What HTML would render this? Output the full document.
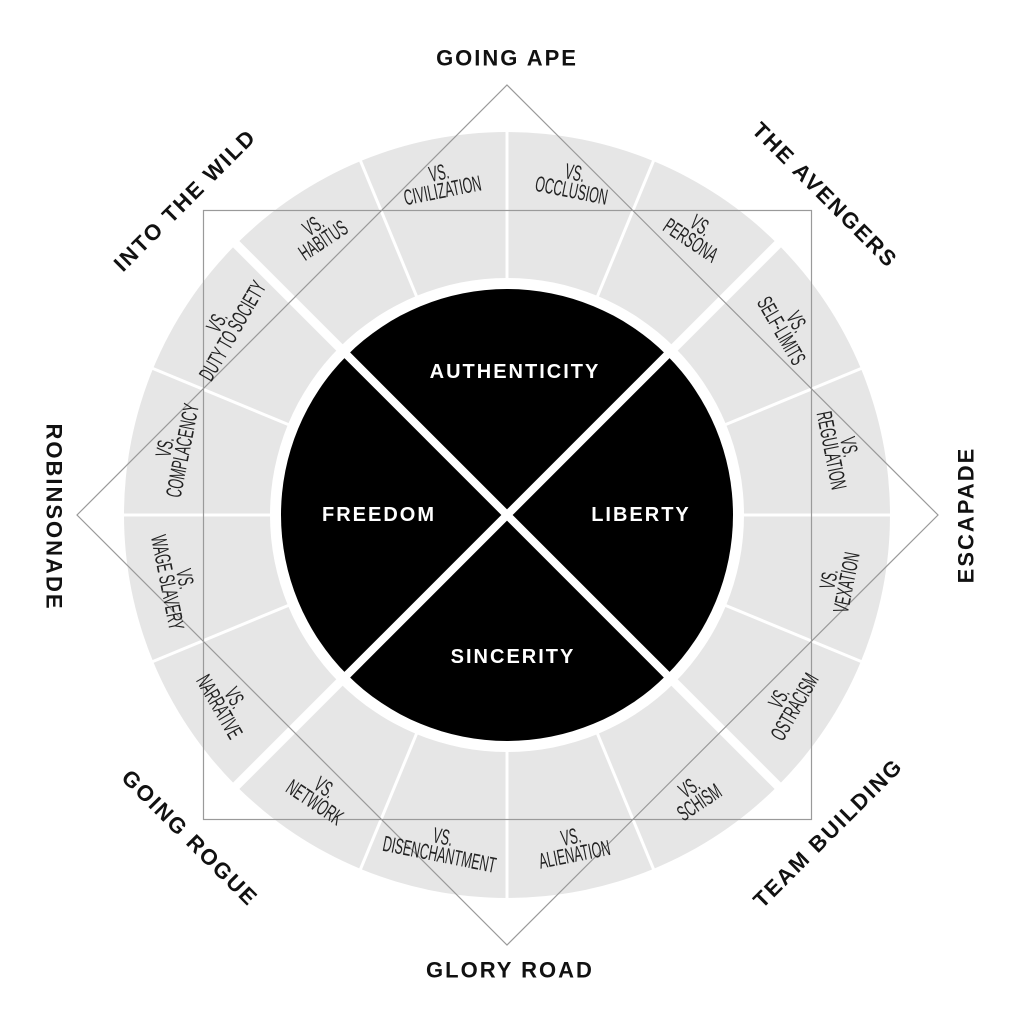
<!DOCTYPE html>
<html><head><meta charset="utf-8"><style>
html,body{margin:0;padding:0;background:#fff;}
svg{display:block;}
.s{font-family:"Liberation Sans",sans-serif;font-size:22px;fill:#222;text-anchor:middle;}
.o{font-family:"Liberation Sans",sans-serif;font-size:22px;font-weight:bold;fill:#111;text-anchor:middle;letter-spacing:2px;dominant-baseline:central;}
.c{font-family:"Liberation Sans",sans-serif;font-size:20px;font-weight:bold;fill:#fff;text-anchor:middle;letter-spacing:2px;dominant-baseline:central;}
</style></head><body>
<svg width="1024" height="1024" viewBox="0 0 1024 1024" xmlns="http://www.w3.org/2000/svg">
<rect width="1024" height="1024" fill="#fff"/>
<circle cx="507" cy="515" r="383" fill="#e6e6e6"/>
<g stroke="#fff" stroke-width="3">
<line x1="507" y1="515" x2="507" y2="120"/>
<line x1="507" y1="515" x2="507" y2="910"/>
<line x1="507" y1="515" x2="112" y2="515"/>
<line x1="507" y1="515" x2="902" y2="515"/>
<line x1="507" y1="515" x2="658" y2="150"/>
<line x1="507" y1="515" x2="356" y2="150"/>
<line x1="507" y1="515" x2="658" y2="880"/>
<line x1="507" y1="515" x2="356" y2="880"/>
<line x1="507" y1="515" x2="872" y2="364"/>
<line x1="507" y1="515" x2="872" y2="666"/>
<line x1="507" y1="515" x2="142" y2="364"/>
<line x1="507" y1="515" x2="142" y2="666"/>
</g>
<g stroke="#fff" stroke-width="9">
<line x1="507" y1="515" x2="790" y2="232"/>
<line x1="507" y1="515" x2="224" y2="232"/>
<line x1="507" y1="515" x2="790" y2="798"/>
<line x1="507" y1="515" x2="224" y2="798"/>
</g>
<circle cx="507" cy="515" r="237" fill="#fff"/>
<circle cx="507" cy="515" r="226" fill="#000"/>
<g stroke="#fff" stroke-width="8">
<line x1="347" y1="355" x2="667" y2="675"/>
<line x1="667" y1="355" x2="347" y2="675"/>
</g>
<g fill="none" stroke="#9a9a9a" stroke-width="1.2">
<rect x="203.5" y="210.5" width="608" height="609"/>
<polygon points="507,85 938,515 507,945 77,515"/>
</g>
<g class="s">
<g transform="translate(441,183) rotate(-11.25) scale(0.56,1)"><text y="-3">VS.</text><text y="15">CIVILIZATION</text></g>
<g transform="translate(573,183) rotate(11.25) scale(0.56,1)"><text y="-3">VS.</text><text y="15">OCCLUSION</text></g>
<g transform="translate(695,234) rotate(33.75) scale(0.56,1)"><text y="-3">VS.</text><text y="15">PERSONA</text></g>
<g transform="translate(788,327) rotate(60) scale(0.56,1)"><text y="-3">VS.</text><text y="15">SELF-LIMITS</text></g>
<g transform="translate(839,449) rotate(78.75) scale(0.56,1)"><text y="-3">VS.</text><text y="15">REGULATION</text></g>
<g transform="translate(839,581) rotate(-78.75) scale(0.56,1)"><text y="-3">VS.</text><text y="15">VEXATION</text></g>
<g transform="translate(788,703) rotate(-60) scale(0.56,1)"><text y="-3">VS.</text><text y="15">OSTRACISM</text></g>
<g transform="translate(695,796) rotate(-33.75) scale(0.56,1)"><text y="-3">VS.</text><text y="15">SCHISM</text></g>
<g transform="translate(573,847) rotate(-11.25) scale(0.56,1)"><text y="-3">VS.</text><text y="15">ALIENATION</text></g>
<g transform="translate(441,847) rotate(11.25) scale(0.56,1)"><text y="-3">VS.</text><text y="15">DISENCHANTMENT</text></g>
<g transform="translate(319,796) rotate(33.75) scale(0.56,1)"><text y="-3">VS.</text><text y="15">NETWORK</text></g>
<g transform="translate(226,703) rotate(60) scale(0.56,1)"><text y="-3">VS.</text><text y="15">NARRATIVE</text></g>
<g transform="translate(175,581) rotate(78.75) scale(0.56,1)"><text y="-3">VS.</text><text y="15">WAGE SLAVERY</text></g>
<g transform="translate(175,449) rotate(-78.75) scale(0.56,1)"><text y="-3">VS.</text><text y="15">COMPLACENCY</text></g>
<g transform="translate(226,327) rotate(-60) scale(0.56,1)"><text y="-3">VS.</text><text y="15">DUTY TO SOCIETY</text></g>
<g transform="translate(319,234) rotate(-33.75) scale(0.56,1)"><text y="-3">VS.</text><text y="15">HABITUS</text></g>
</g>
<text class="c" x="515" y="372">AUTHENTICITY</text>
<text class="c" x="641" y="515">LIBERTY</text>
<text class="c" x="513" y="657">SINCERITY</text>
<text class="c" x="379" y="515">FREEDOM</text>
<text class="o" transform="translate(507,58)">GOING APE</text>
<text class="o" transform="translate(825,195) rotate(45)">THE AVENGERS</text>
<text class="o" transform="translate(966,515) rotate(-90)">ESCAPADE</text>
<text class="o" transform="translate(828,833) rotate(-45)">TEAM BUILDING</text>
<text class="o" transform="translate(510,970)">GLORY ROAD</text>
<text class="o" transform="translate(190,838) rotate(45)">GOING ROGUE</text>
<text class="o" transform="translate(54,517) rotate(90)">ROBINSONADE</text>
<text class="o" transform="translate(185,200) rotate(-45)">INTO THE WILD</text>
</svg>
</body></html>
